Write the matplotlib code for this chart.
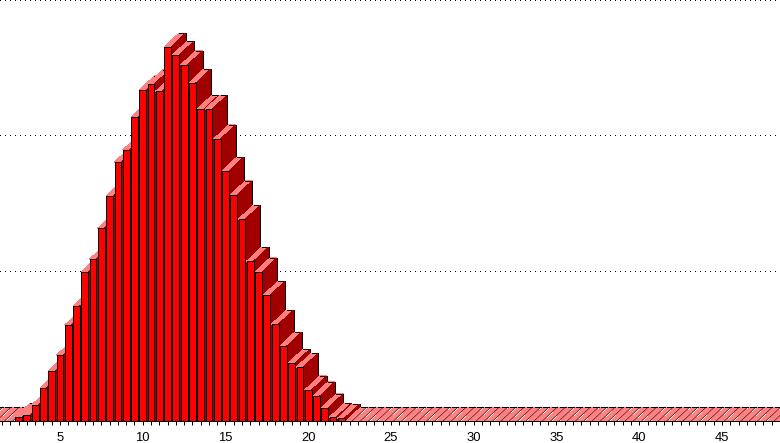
import numpy as np
import matplotlib
matplotlib.use('Agg')
import matplotlib.pyplot as plt
from matplotlib.patches import Polygon

# histogram values, one bin every 0.5 starting at 0.5
leading_zeros = [0, 0, 0, 0]
values = [2.9, 4.4, 11.8, 24.3, 36.8, 48.5, 70.6, 84.6, 109.6, 119.1,
          141.9, 165.4, 190.4, 199.3, 223.5, 243.4, 247.8, 242.6, 275.0, 269.1,
          261.8, 248.5, 229.4, 229.4, 207.4, 183.8, 166.2, 148.5, 117.6, 109.6,
          92.6, 71.3, 55.1, 42.6, 39.7, 22.8, 18.4, 9.6, 2.9, 2.2]
trailing_zeros = [0] * 53
series = leading_zeros + values + trailing_zeros
bins = 0.5 + 0.5 * np.arange(len(series))
tick_labels = [5, 10, 15, 20, 25, 30, 35, 40, 45]
grid_values = [100, 200, 299.5]

px_per_x = 16.55
px_per_y = 1.36
bar_w = 6.8 / px_per_x
depth_x = 15 / px_per_x
depth_y = 14 / px_per_y
xlim = (5 - 60 / px_per_x, 5 + 720 / px_per_x)

fig = plt.figure(figsize=(7.8, 4.43), dpi=100)
ax = fig.add_axes([0, 0, 1, 1])
ax.set_xlim(xlim)
ax.set_ylim(-22 / px_per_y, 421 / px_per_y)

# dotted grid sits on the back wall
for g in grid_values:
    ax.plot(xlim, [g + depth_y, g + depth_y], color='black', lw=0.72,
            linestyle=(0, (1, 5)), dash_capstyle='butt', antialiased=False, zorder=1)


def fill(points, color, z):
    ax.add_patch(Polygon(points, closed=True, facecolor=color, edgecolor='none',
                         antialiased=False, zorder=z))


def edge(xs, ys, z):
    ax.plot(xs, ys, color='black', lw=0.72, antialiased=False, solid_capstyle='butt', zorder=z)


# left to right, each bar covers the side of the one before it
for i, (b, v) in enumerate(zip(bins, series)):
    x0 = b - bar_w / 2
    x1 = b + bar_w / 2
    bx0 = x0 + depth_x
    bx1 = x1 + depth_x
    by = v + depth_y
    z = 2 + i * 0.01
    if v > 0:
        fill([(x0, v), (bx0, by), (bx1, by), (x1, v)], '#ff8080', z)
        edge([bx0, bx1], [by, by], z)
        fill([(x1, 0), (bx1, depth_y), (bx1, by), (x1, v)], '#a00000', z)
        edge([bx1, bx1], [depth_y, by], z)
        fill([(x0, 0), (x0, v), (x1, v), (x1, 0)], '#ff0000', z)
        edge([x0, x0, x1, x1], [0, v, v, 0], z)
    else:
        # empty bins leave only a narrower top, the gaps read as white stripes
        xe = x1 - 1 / px_per_x
        fill([(x0, 0), (bx0, by), (xe + depth_x, by), (xe, 0)], '#ff8080', z)
        edge([bx0, bx1], [by, by], z)
        ax.plot([xe, xe + depth_x], [0, by], color='black', lw=0.35, zorder=z)

for s in ['top', 'left', 'right']:
    ax.spines[s].set_visible(False)
ax.spines['bottom'].set_position(('data', 0))
ax.spines['bottom'].set_linewidth(0.72)
ax.spines['bottom'].set_zorder(5)
ax.set_yticks([])
ax.set_xticks(tick_labels)
ax.set_xticklabels([str(t) for t in tick_labels], family='Liberation Sans', fontsize=9.4)
ax.set_xticks(bins, minor=True)
ax.tick_params(axis='x', which='major', length=3, width=0.72, pad=5)
ax.tick_params(axis='x', which='minor', length=3, width=0.72)
ax.set_xlim(xlim)

fig.savefig('out.png', dpi=100, facecolor='white')
